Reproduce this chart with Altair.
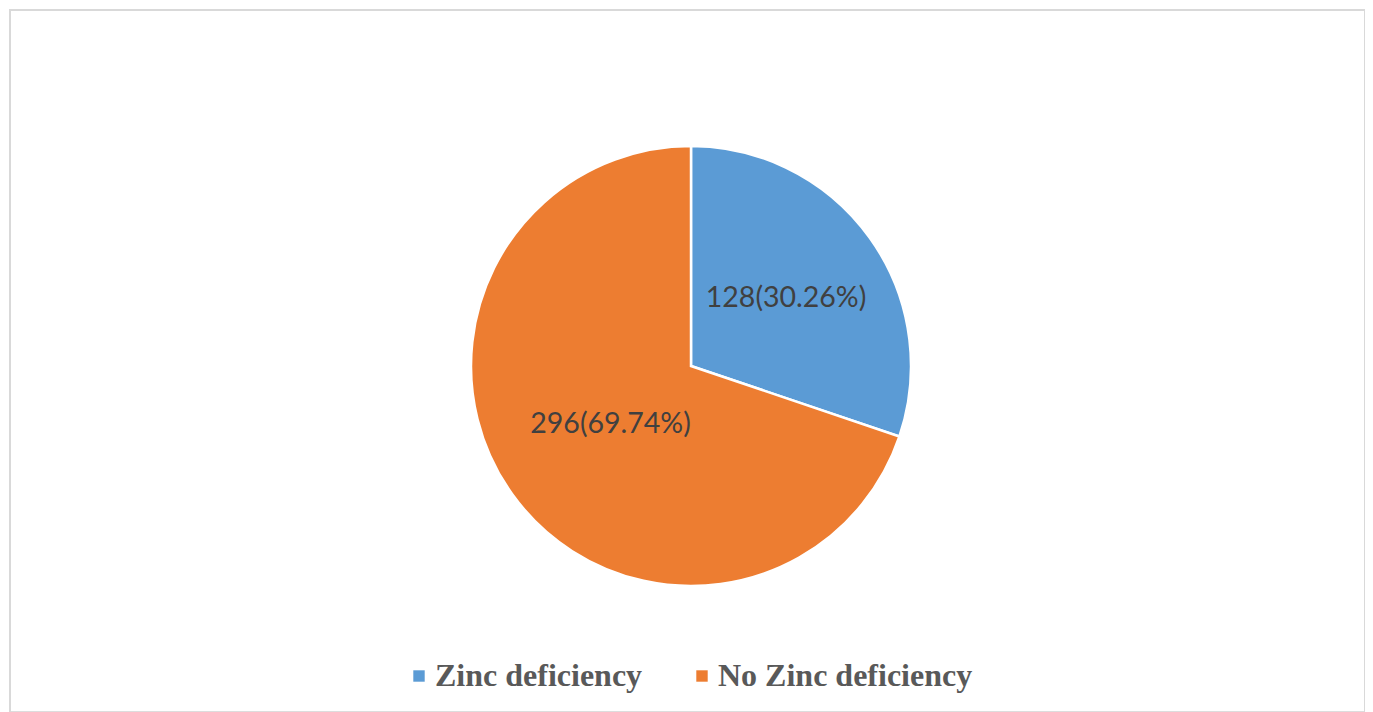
import altair as alt
import pandas as pd

categories = ["Zinc deficiency", "No Zinc deficiency"]
counts = [128, 296]
percent_labels = ["30.26%", "69.74%"]
colors = ["#5B9BD5", "#ED7D31"]

df = pd.DataFrame({
    "category": categories,
    "count": counts,
    "idx": list(range(len(categories))),
    "label": [f"{c}({p})" for c, p in zip(counts, percent_labels)],
})

W, H = 1357, 704
CX, CY = 682, 357

base = alt.Chart(df).encode(
    theta=alt.Theta("count:Q", stack=True),
    order=alt.Order("idx:Q"),
    x=alt.value(CX),
    y=alt.value(CY),
)

pie = base.mark_arc(outerRadius=220, stroke="white", strokeWidth=2.5).encode(
    color=alt.Color(
        "category:N",
        scale=alt.Scale(domain=categories, range=colors),
        sort=categories,
        legend=alt.Legend(
            title=None,
            orient="none",
            direction="horizontal",
            legendX=394,
            legendY=651,
            padding=0,
            symbolType="square",
            symbolSize=130,
            symbolStrokeWidth=0,
            labelFont="Liberation Serif",
            labelFontWeight="bold",
            labelFontSize=32,
            labelColor="#595959",
            labelLimit=500,
            labelOffset=0,
            columnPadding=43,
        ),
    )
)

txt = dict(font="Lato", fontSize=28.5, color="#404040", align="center", baseline="middle")
lab1 = base.transform_calculate(
    t="datum.idx == 0 ? datum.label : ''"
).mark_text(radius=117, **txt).encode(text="t:N")
lab2 = base.transform_calculate(
    t="datum.idx == 1 ? datum.label : ''"
).mark_text(radius=99, **txt).encode(text="t:N")

border_color = "#D9D9D9"
left = alt.Chart(df).mark_rule(color=border_color, strokeWidth=2).encode(
    x=alt.value(1), y=alt.value(0), y2=alt.value(H))
right = alt.Chart(df).mark_rule(color=border_color, strokeWidth=2).encode(
    x=alt.value(W - 1), y=alt.value(0), y2=alt.value(H))
top = alt.Chart(df).mark_rule(color=border_color, strokeWidth=2).encode(
    y=alt.value(1), x=alt.value(0), x2=alt.value(W))

chart = alt.layer(left, right, top, pie, lab1, lab2).properties(
    width=W,
    height=H,
    padding=0,
    autosize=alt.AutoSizeParams(type="fit", contains="padding"),
).configure_view(stroke=None).configure(background="white")

chart.save("out.html", embed_options={"renderer": "svg", "actions": False})
